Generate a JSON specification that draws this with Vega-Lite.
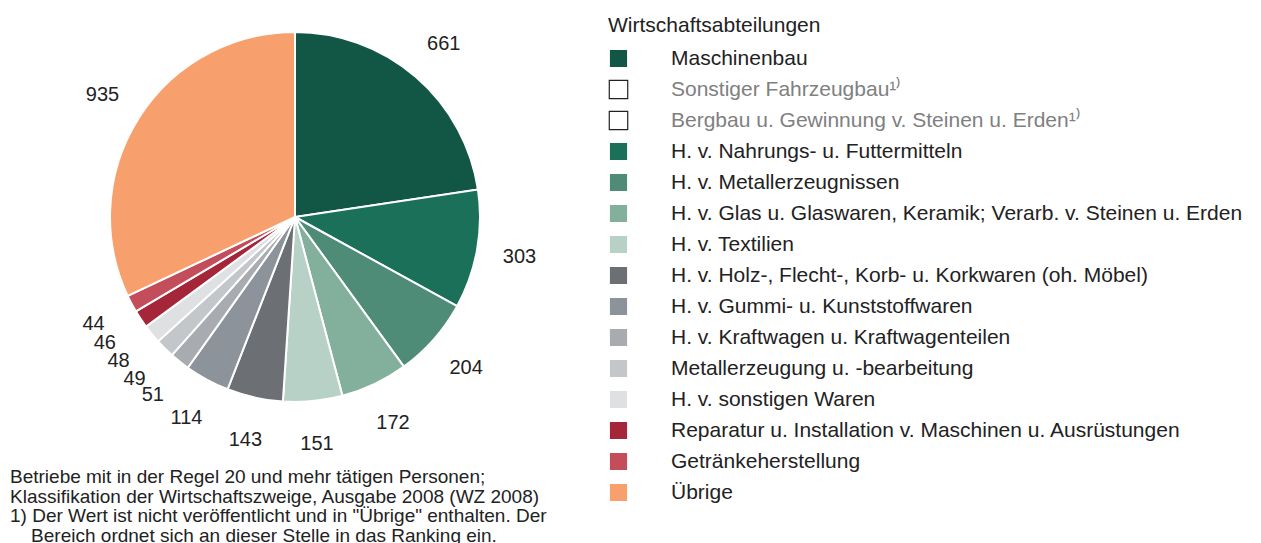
{
  "$schema": "https://vega.github.io/schema/vega-lite/v6.json",
  "width": 370,
  "height": 370,
  "autosize": "none",
  "padding": {"left": 110, "top": 32, "right": 781, "bottom": 141},
  "background": "white",
  "config": {"view": {"stroke": null}, "font": "Liberation Sans"},
  "title": {
    "text": [
      "Betriebe mit in der Regel 20 und mehr tätigen Personen;",
      "Klassifikation der Wirtschaftszweige, Ausgabe 2008 (WZ 2008)",
      "1) Der Wert ist nicht veröffentlicht und in \"Übrige\" enthalten. Der",
      "\u200b\u00a0\u00a0\u00a0\u00a0Bereich ordnet sich an dieser Stelle in das Ranking ein."
    ],
    "orient": "bottom",
    "anchor": "start",
    "frame": "group",
    "dx": -100,
    "offset": -37,
    "fontSize": 19,
    "fontWeight": "normal",
    "color": "#222222",
    "lineHeight": 19.6,
    "font": "Liberation Sans"
  },
  "data": {
    "values": [
      {"rank": 1, "category": "Maschinenbau", "value": 661},
      {"rank": 2, "category": "Sonstiger Fahrzeugbau¹⁾", "value": null},
      {"rank": 3, "category": "Bergbau u. Gewinnung v. Steinen u. Erden¹⁾", "value": null},
      {"rank": 4, "category": "H. v. Nahrungs- u. Futtermitteln", "value": 303},
      {"rank": 5, "category": "H. v. Metallerzeugnissen", "value": 204},
      {"rank": 6, "category": "H. v. Glas u. Glaswaren, Keramik; Verarb. v. Steinen u. Erden", "value": 172},
      {"rank": 7, "category": "H. v. Textilien", "value": 151},
      {"rank": 8, "category": "H. v. Holz-, Flecht-, Korb- u. Korkwaren (oh. Möbel)", "value": 143},
      {"rank": 9, "category": "H. v. Gummi- u. Kunststoffwaren", "value": 114},
      {"rank": 10, "category": "H. v. Kraftwagen u. Kraftwagenteilen", "value": 51},
      {"rank": 11, "category": "Metallerzeugung u. -bearbeitung", "value": 49},
      {"rank": 12, "category": "H. v. sonstigen Waren", "value": 48},
      {"rank": 13, "category": "Reparatur u. Installation v. Maschinen u. Ausrüstungen", "value": 46},
      {"rank": 14, "category": "Getränkeherstellung", "value": 44},
      {"rank": 15, "category": "Übrige", "value": 935}
    ]
  },
  "transform": [{"filter": "isValid(datum.value)"}],
  "encoding": {
    "theta": {"field": "value", "type": "quantitative", "stack": true},
    "order": {"field": "rank", "type": "quantitative"}
  },
  "layer": [
    {
      "mark": {"type": "arc", "strokeWidth": 2},
      "encoding": {
        "color": {
          "field": "category",
          "type": "nominal",
          "scale": {
            "domain": [
              "Maschinenbau",
              "Sonstiger Fahrzeugbau¹⁾",
              "Bergbau u. Gewinnung v. Steinen u. Erden¹⁾",
              "H. v. Nahrungs- u. Futtermitteln",
              "H. v. Metallerzeugnissen",
              "H. v. Glas u. Glaswaren, Keramik; Verarb. v. Steinen u. Erden",
              "H. v. Textilien",
              "H. v. Holz-, Flecht-, Korb- u. Korkwaren (oh. Möbel)",
              "H. v. Gummi- u. Kunststoffwaren",
              "H. v. Kraftwagen u. Kraftwagenteilen",
              "Metallerzeugung u. -bearbeitung",
              "H. v. sonstigen Waren",
              "Reparatur u. Installation v. Maschinen u. Ausrüstungen",
              "Getränkeherstellung",
              "Übrige"
            ],
            "range": ["#125745", "#ffffff", "#ffffff", "#1b7059", "#4e8c78", "#82b09c", "#b7d1c7", "#6c7074", "#8d939a", "#a8abaf", "#c4c7ca", "#dfe0e1", "#a52639", "#c44d5c", "#f7a06e"]
          },
          "legend": {
            "title": "Wirtschaftsabteilungen",
            "orient": "none",
            "legendX": 498,
            "legendY": -17,
            "padding": 0,
            "titleFontSize": 21,
            "titleFontWeight": "normal",
            "titleColor": "#222222",
            "titlePadding": 12,
            "titleLimit": 600,
            "labelFontSize": 21,
            "labelColor": {"expr": "datum.index == 1 || datum.index == 2 ? '#808080' : '#222222'"},
            "labelOffset": 42,
            "labelLimit": 700,
            "symbolType": "square",
            "symbolSize": 340,
            "symbolStrokeWidth": 1.2,
            "rowPadding": 6
          }
        },
        "stroke": {
          "field": "category",
          "type": "nominal",
          "scale": {
            "domain": [
              "Maschinenbau",
              "Sonstiger Fahrzeugbau¹⁾",
              "Bergbau u. Gewinnung v. Steinen u. Erden¹⁾",
              "H. v. Nahrungs- u. Futtermitteln",
              "H. v. Metallerzeugnissen",
              "H. v. Glas u. Glaswaren, Keramik; Verarb. v. Steinen u. Erden",
              "H. v. Textilien",
              "H. v. Holz-, Flecht-, Korb- u. Korkwaren (oh. Möbel)",
              "H. v. Gummi- u. Kunststoffwaren",
              "H. v. Kraftwagen u. Kraftwagenteilen",
              "Metallerzeugung u. -bearbeitung",
              "H. v. sonstigen Waren",
              "Reparatur u. Installation v. Maschinen u. Ausrüstungen",
              "Getränkeherstellung",
              "Übrige"
            ],
            "range": ["#ffffff", "#222222", "#222222", "#ffffff", "#ffffff", "#ffffff", "#ffffff", "#ffffff", "#ffffff", "#ffffff", "#ffffff", "#ffffff", "#ffffff", "#ffffff", "#ffffff"]
          },
          "legend": {
            "title": "Wirtschaftsabteilungen",
            "orient": "none",
            "legendX": 498,
            "legendY": -17,
            "padding": 0,
            "titleFontSize": 21,
            "titleFontWeight": "normal",
            "titleColor": "#222222",
            "titlePadding": 12,
            "titleLimit": 600,
            "labelFontSize": 21,
            "labelColor": {"expr": "datum.index == 1 || datum.index == 2 ? '#808080' : '#222222'"},
            "labelOffset": 42,
            "labelLimit": 700,
            "symbolType": "square",
            "symbolSize": 340,
            "symbolStrokeWidth": 1.2,
            "rowPadding": 6
          }
        }
      }
    },
    {
      "mark": {"type": "text", "radius": 228, "fontSize": 20, "color": "#222222", "align": "center", "baseline": "middle"},
      "encoding": {
        "text": {"field": "value", "type": "quantitative"}
      }
    }
  ]
}
